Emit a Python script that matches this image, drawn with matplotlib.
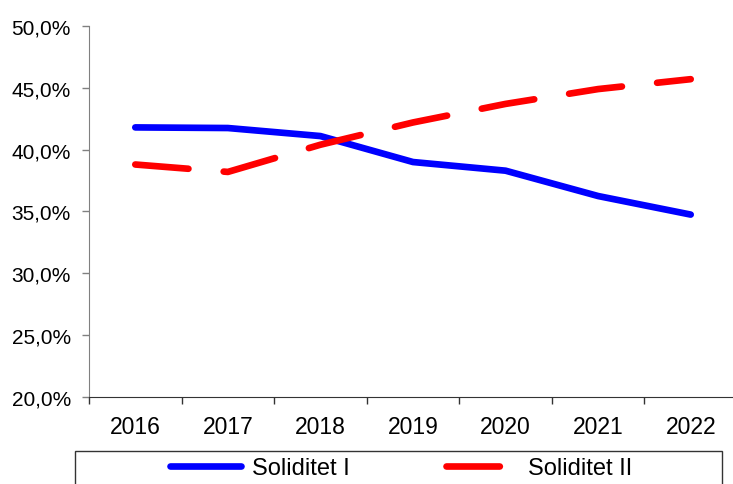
import matplotlib.pyplot as plt
from matplotlib.ticker import FuncFormatter, FixedLocator
from matplotlib.patches import Rectangle

plt.rcParams['font.family'] = ['Liberation Sans', 'DejaVu Sans']

# Data
years = ['2016', '2017', '2018', '2019', '2020', '2021', '2022']
soliditet_1 = [41.8, 41.75, 41.1, 39.0, 38.3, 36.25, 34.75]
soliditet_2 = [38.8, 38.2, 40.4, 42.2, 43.7, 44.9, 45.7]

fig = plt.figure(figsize=(7.33, 4.85), dpi=100)
ax = fig.add_axes([89 / 733, 1 - 398 / 485, 648 / 733, 371 / 485])

x = range(len(years))
ax.plot(x, soliditet_1, color='#0000FF', lw=4.8, solid_capstyle='round',
        solid_joinstyle='round', label='Soliditet I')
ax.plot(x, soliditet_2, color='#FF0000', lw=4.8, dashes=(8, 5.3),
        dash_capstyle='round', dash_joinstyle='round', label='Soliditet II')

# Axes styling
ax.set_xlim(-0.5, len(years) - 0.5)
ax.set_ylim(20, 50)
ax.set_yticks(range(20, 51, 5))
ax.yaxis.set_major_formatter(FuncFormatter(lambda v, p: f'{v:.1f}%'.replace('.', ',')))
ax.set_xticks(list(x))
ax.set_xticklabels(years)
ax.xaxis.set_minor_locator(FixedLocator([i - 0.5 for i in range(len(years) + 1)]))

ax.tick_params(axis='x', which='major', length=0, pad=13, labelsize=16.5)
ax.tick_params(axis='x', which='minor', length=5, width=1, color='#333333')
ax.tick_params(axis='y', length=5, width=1, color='#808080', pad=8, labelsize=15)

for side in ['top', 'right']:
    ax.spines[side].set_visible(False)
ax.spines['left'].set_color('#808080')
ax.spines['bottom'].set_color('#333333')

# Legend with box at the bottom
box = Rectangle((75 / 733, -0.05), 647 / 733, 1 - 452 / 485 + 0.05,
                transform=fig.transFigure, fill=False, edgecolor='#333333', lw=1)
fig.patches.append(box)
fig.legend(loc='center', bbox_to_anchor=(401 / 733, 1 - 469 / 485), ncol=2,
           frameon=False, fontsize=17, handlelength=3.0, handletextpad=0.45,
           columnspacing=4.1)

fig.savefig('out.png', dpi=100)
